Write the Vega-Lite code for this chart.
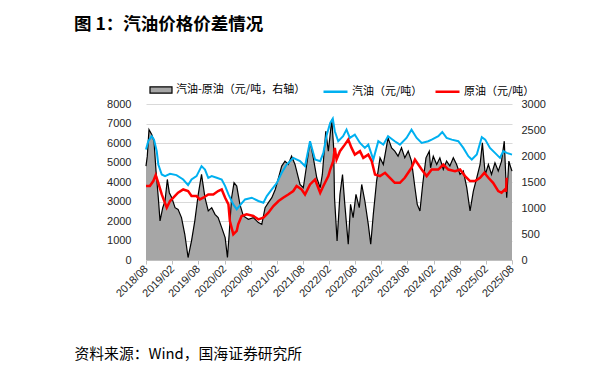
{
"$schema": "https://vega.github.io/schema/vega-lite/v6.json",
"autosize": {"type": "none"},
"width": 366, "height": 156,
"padding": {"left": 146, "top": 104, "right": 100, "bottom": 119},
"background": "white",
"config": {"view": {"stroke": null}, "font": "Liberation Sans"},
"title": {"text": "图 1：汽油价格价差情况", "anchor": "start", "frame": "group", "dx": -72, "offset": 45, "font": "Noto Sans CJK SC", "fontSize": 17.5, "fontWeight": "bold", "color": "#000000"},
"datasets": {
"spread": [
{"d":"2018-08-01","v":1806},{"d":"2018-08-10","v":1997},{"d":"2018-08-22","v":2507},{"d":"2018-09-10","v":2412},{"d":"2018-09-26","v":2285},{"d":"2018-10-10","v":1710},{"d":"2018-10-26","v":1198},{"d":"2018-11-07","v":751},{"d":"2018-11-26","v":1006},{"d":"2018-12-12","v":1135},{"d":"2018-12-28","v":1549},{"d":"2019-01-11","v":1294},{"d":"2019-01-28","v":1198},{"d":"2019-02-20","v":1006},{"d":"2019-03-13","v":974},{"d":"2019-04-06","v":815},{"d":"2019-04-29","v":495},{"d":"2019-05-22","v":48},{"d":"2019-06-15","v":368},{"d":"2019-07-08","v":751},{"d":"2019-08-01","v":1262},{"d":"2019-08-24","v":1645},{"d":"2019-09-17","v":1198},{"d":"2019-10-10","v":943},{"d":"2019-11-03","v":1006},{"d":"2019-11-26","v":878},{"d":"2019-12-18","v":815},{"d":"2020-01-12","v":623},{"d":"2020-02-05","v":431},{"d":"2020-02-21","v":48},{"d":"2020-03-04","v":495},{"d":"2020-03-21","v":1198},{"d":"2020-04-07","v":1486},{"d":"2020-04-26","v":1422},{"d":"2020-05-18","v":1070},{"d":"2020-06-11","v":847},{"d":"2020-07-16","v":782},{"d":"2020-08-20","v":815},{"d":"2020-09-24","v":719},{"d":"2020-10-18","v":686},{"d":"2020-11-10","v":1006},{"d":"2020-12-03","v":1102},{"d":"2020-12-27","v":1198},{"d":"2021-01-20","v":1357},{"d":"2021-02-12","v":1582},{"d":"2021-03-06","v":1806},{"d":"2021-03-29","v":1902},{"d":"2021-04-21","v":1837},{"d":"2021-05-14","v":1997},{"d":"2021-06-07","v":1837},{"d":"2021-07-12","v":1453},{"d":"2021-08-04","v":1390},{"d":"2021-08-28","v":1837},{"d":"2021-09-20","v":2285},{"d":"2021-10-13","v":1965},{"d":"2021-11-06","v":1582},{"d":"2021-11-30","v":1390},{"d":"2021-12-15","v":1645},{"d":"2022-01-08","v":2477},{"d":"2022-01-26","v":2093},{"d":"2022-02-19","v":2700},{"d":"2022-03-04","v":2157},{"d":"2022-03-10","v":1198},{"d":"2022-03-28","v":368},{"d":"2022-04-17","v":1262},{"d":"2022-05-05","v":1645},{"d":"2022-05-21","v":1070},{"d":"2022-06-14","v":303},{"d":"2022-06-30","v":1070},{"d":"2022-07-18","v":815},{"d":"2022-08-07","v":1262},{"d":"2022-08-30","v":1006},{"d":"2022-09-16","v":1453},{"d":"2022-10-08","v":1135},{"d":"2022-11-01","v":686},{"d":"2022-11-18","v":303},{"d":"2022-12-06","v":878},{"d":"2022-12-29","v":1518},{"d":"2023-01-22","v":1965},{"d":"2023-02-14","v":1837},{"d":"2023-03-19","v":2349},{"d":"2023-04-13","v":2157},{"d":"2023-05-05","v":2093},{"d":"2023-05-28","v":1997},{"d":"2023-06-21","v":2157},{"d":"2023-07-14","v":1965},{"d":"2023-08-07","v":2093},{"d":"2023-08-30","v":1902},{"d":"2023-09-23","v":1390},{"d":"2023-10-09","v":1070},{"d":"2023-10-28","v":943},{"d":"2023-11-16","v":1453},{"d":"2023-12-09","v":1965},{"d":"2024-01-01","v":2093},{"d":"2024-01-10","v":1773},{"d":"2024-01-29","v":1997},{"d":"2024-02-22","v":1837},{"d":"2024-03-15","v":1965},{"d":"2024-04-08","v":1741},{"d":"2024-05-01","v":1902},{"d":"2024-05-24","v":1806},{"d":"2024-06-17","v":1965},{"d":"2024-07-10","v":1837},{"d":"2024-08-03","v":1645},{"d":"2024-08-26","v":1710},{"d":"2024-09-19","v":1390},{"d":"2024-10-12","v":943},{"d":"2024-11-04","v":1326},{"d":"2024-11-28","v":1582},{"d":"2024-12-21","v":1837},{"d":"2025-01-06","v":2253},{"d":"2025-01-26","v":1645},{"d":"2025-02-17","v":1837},{"d":"2025-03-11","v":1645},{"d":"2025-04-04","v":1869},{"d":"2025-04-27","v":1710},{"d":"2025-05-20","v":1902},{"d":"2025-06-08","v":2285},{"d":"2025-06-25","v":1198},{"d":"2025-07-10","v":1902},{"d":"2025-07-24","v":1773},{"d":"2025-08-01","v":1710}
],
"gas": [
{"d":"2018-08-01","v":5662},{"d":"2018-08-17","v":6090},{"d":"2018-09-10","v":6346},{"d":"2018-09-26","v":6173},{"d":"2018-10-15","v":5580},{"d":"2018-10-26","v":4895},{"d":"2018-11-19","v":4384},{"d":"2018-12-12","v":4302},{"d":"2019-01-16","v":4420},{"d":"2019-03-02","v":4354},{"d":"2019-04-18","v":4129},{"d":"2019-05-22","v":3843},{"d":"2019-06-15","v":4129},{"d":"2019-07-20","v":4302},{"d":"2019-08-24","v":4814},{"d":"2019-09-17","v":4640},{"d":"2019-10-10","v":4216},{"d":"2019-11-03","v":4302},{"d":"2019-12-08","v":4216},{"d":"2020-01-12","v":4129},{"d":"2020-02-05","v":3792},{"d":"2020-02-28","v":3362},{"d":"2020-04-02","v":2851},{"d":"2020-04-26","v":2596},{"d":"2020-05-18","v":2800},{"d":"2020-06-23","v":3107},{"d":"2020-08-09","v":3194},{"d":"2020-09-24","v":3025},{"d":"2020-10-29","v":2938},{"d":"2020-11-22","v":3281},{"d":"2020-12-27","v":3618},{"d":"2021-02-01","v":3960},{"d":"2021-03-06","v":4471},{"d":"2021-04-10","v":4895},{"d":"2021-05-26","v":5238},{"d":"2021-07-12","v":5069},{"d":"2021-08-16","v":4814},{"d":"2021-09-20","v":6091},{"d":"2021-10-25","v":5151},{"d":"2021-11-30","v":5069},{"d":"2021-12-22","v":5493},{"d":"2022-01-15","v":6428},{"d":"2022-02-08","v":7026},{"d":"2022-02-26","v":7246},{"d":"2022-03-12","v":6602},{"d":"2022-04-05","v":6091},{"d":"2022-05-09","v":6346},{"d":"2022-06-02","v":6684},{"d":"2022-06-25","v":6260},{"d":"2022-07-30","v":6428},{"d":"2022-09-04","v":6004},{"d":"2022-10-08","v":5749},{"d":"2022-11-01","v":5917},{"d":"2022-12-06","v":5151},{"d":"2023-01-10","v":6091},{"d":"2023-02-14","v":5917},{"d":"2023-03-19","v":6346},{"d":"2023-05-05","v":6091},{"d":"2023-06-10","v":5917},{"d":"2023-07-26","v":6260},{"d":"2023-08-30","v":6684},{"d":"2023-10-05","v":6260},{"d":"2023-11-09","v":6004},{"d":"2023-12-25","v":6091},{"d":"2024-01-18","v":6173},{"d":"2024-03-04","v":6346},{"d":"2024-04-01","v":6566},{"d":"2024-05-01","v":6260},{"d":"2024-06-06","v":6173},{"d":"2024-07-22","v":6091},{"d":"2024-08-26","v":5749},{"d":"2024-09-30","v":5324},{"d":"2024-10-24","v":5151},{"d":"2024-11-28","v":5406},{"d":"2025-01-02","v":6296},{"d":"2025-01-26","v":6173},{"d":"2025-02-28","v":5749},{"d":"2025-04-04","v":5493},{"d":"2025-05-09","v":5238},{"d":"2025-06-01","v":5580},{"d":"2025-06-25","v":5493},{"d":"2025-08-01","v":5406}
],
"crude": [
{"d":"2018-08-01","v":3792},{"d":"2018-08-28","v":3792},{"d":"2018-09-21","v":4047},{"d":"2018-10-08","v":4354},{"d":"2018-10-26","v":3960},{"d":"2018-11-19","v":3362},{"d":"2018-12-24","v":2683},{"d":"2019-01-16","v":3025},{"d":"2019-02-08","v":3194},{"d":"2019-03-13","v":3449},{"d":"2019-04-18","v":3618},{"d":"2019-05-22","v":3536},{"d":"2019-06-15","v":3281},{"d":"2019-07-20","v":3281},{"d":"2019-08-12","v":3107},{"d":"2019-09-05","v":3194},{"d":"2019-10-10","v":3362},{"d":"2019-11-14","v":3362},{"d":"2019-12-18","v":3536},{"d":"2020-01-12","v":3618},{"d":"2020-02-05","v":3194},{"d":"2020-02-28","v":2851},{"d":"2020-03-09","v":2003},{"d":"2020-04-02","v":1318},{"d":"2020-04-26","v":1492},{"d":"2020-05-06","v":1829},{"d":"2020-05-30","v":2259},{"d":"2020-07-04","v":2340},{"d":"2020-08-20","v":2259},{"d":"2020-09-24","v":2085},{"d":"2020-10-29","v":2172},{"d":"2020-12-03","v":2427},{"d":"2021-01-07","v":2770},{"d":"2021-02-12","v":3025},{"d":"2021-03-16","v":3194},{"d":"2021-04-21","v":3362},{"d":"2021-05-26","v":3536},{"d":"2021-06-18","v":3792},{"d":"2021-07-23","v":3618},{"d":"2021-08-16","v":3362},{"d":"2021-09-20","v":3873},{"d":"2021-10-25","v":4129},{"d":"2021-11-30","v":3449},{"d":"2021-12-22","v":3792},{"d":"2022-01-26","v":4302},{"d":"2022-02-08","v":4640},{"d":"2022-03-01","v":5069},{"d":"2022-03-12","v":5749},{"d":"2022-03-24","v":5151},{"d":"2022-04-17","v":5580},{"d":"2022-05-21","v":5917},{"d":"2022-06-14","v":6173},{"d":"2022-07-07","v":5749},{"d":"2022-07-30","v":5406},{"d":"2022-09-04","v":5580},{"d":"2022-09-27","v":5238},{"d":"2022-11-01","v":5406},{"d":"2022-11-25","v":5069},{"d":"2022-12-18","v":4384},{"d":"2023-01-22","v":4302},{"d":"2023-02-26","v":4471},{"d":"2023-04-01","v":4216},{"d":"2023-05-05","v":3960},{"d":"2023-06-10","v":3960},{"d":"2023-07-14","v":4216},{"d":"2023-08-30","v":4727},{"d":"2023-09-23","v":5151},{"d":"2023-11-09","v":4640},{"d":"2023-12-14","v":4302},{"d":"2024-01-18","v":4640},{"d":"2024-03-04","v":4640},{"d":"2024-04-08","v":4895},{"d":"2024-05-13","v":4640},{"d":"2024-06-29","v":4558},{"d":"2024-08-03","v":4640},{"d":"2024-09-07","v":4302},{"d":"2024-10-12","v":4047},{"d":"2024-11-16","v":4047},{"d":"2024-12-21","v":4216},{"d":"2025-01-20","v":4471},{"d":"2025-02-17","v":4216},{"d":"2025-03-22","v":3960},{"d":"2025-04-27","v":3536},{"d":"2025-05-20","v":3449},{"d":"2025-06-13","v":3618},{"d":"2025-06-20","v":3500},{"d":"2025-06-25","v":4216}
]
},
"encoding": {
  "x": {"field": "d", "type": "temporal",
    "scale": {"type": "utc", "domain": [{"year": 2018, "month": 8, "date": 1, "utc": true}, {"year": 2025, "month": 8, "date": 1, "utc": true}]},
    "axis": {
      "values": [{"year":2018,"month":8,"date":1,"utc":true},{"year":2019,"month":2,"date":1,"utc":true},{"year":2019,"month":8,"date":1,"utc":true},{"year":2020,"month":2,"date":1,"utc":true},{"year":2020,"month":8,"date":1,"utc":true},{"year":2021,"month":2,"date":1,"utc":true},{"year":2021,"month":8,"date":1,"utc":true},{"year":2022,"month":2,"date":1,"utc":true},{"year":2022,"month":8,"date":1,"utc":true},{"year":2023,"month":2,"date":1,"utc":true},{"year":2023,"month":8,"date":1,"utc":true},{"year":2024,"month":2,"date":1,"utc":true},{"year":2024,"month":8,"date":1,"utc":true},{"year":2025,"month":2,"date":1,"utc":true},{"year":2025,"month":8,"date":1,"utc":true}],
      "format": "%Y/%m", "labelAngle": -45, "labelAlign": "right", "labelBaseline": "middle", "labelPadding": 3,
      "labelFont": "Liberation Sans", "labelFontSize": 11, "labelColor": "#262626", "labelOverlap": false, "labelFlush": false,
      "ticks": true, "tickSize": 4, "tickColor": "#bfbfbf", "domainColor": "#bfbfbf", "grid": false,
      "title": "资料来源：Wind，国海证券研究所", "titleFont": "Noto Sans CJK SC", "titleFontSize": 14.8, "titleFontWeight": "normal", "titleColor": "#000000",
      "titleX": -72, "titleY": 98, "titleAlign": "left", "titleAnchor": "start", "titleBaseline": "alphabetic", "titleAngle": 0
    }
  }
},
"layer": [
  {
    "data": {"name": "spread"},
    "encoding": {
      "y": {"field": "v", "type": "quantitative", "scale": {"domain": [0, 3000], "nice": false},
        "axis": {"orient": "right", "values": [0, 500, 1000, 1500, 2000, 2500, 3000], "format": "d", "grid": false, "domain": false, "ticks": false, "labelPadding": 9, "labelFont": "Liberation Sans", "labelFontSize": 11, "labelColor": "#262626", "title": null}}
    },
    "layer": [
      {"mark": {"type": "area", "opacity": 1},
       "encoding": {"fill": {"datum": "汽油-原油（元/吨，右轴）", "type": "nominal",
         "scale": {"domain": ["汽油-原油（元/吨，右轴）"], "range": ["#a6a6a6"]},
         "legend": {"orient": "none", "legendX": 3, "legendY": -26, "direction": "horizontal", "title": null,
           "labelFont": "Noto Sans CJK SC", "labelFontSize": 11, "labelColor": "#000000", "labelOffset": 3,
           "symbolType": "M-1,-0.28H1V0.28H-1Z", "symbolSize": 484, "symbolStrokeColor": "#000000", "symbolStrokeWidth": 1.2, "symbolOpacity": 1}
       }}},
      {"mark": {"type": "line", "color": "#000000", "strokeWidth": 1.2}, "encoding": {}}
    ]
  },
  {
    "layer": [
      {"data": {"name": "gas"},
       "mark": {"type": "line", "strokeWidth": 2},
       "encoding": {
         "y": {"field": "v", "type": "quantitative", "scale": {"domain": [0, 8000], "nice": false},
           "axis": {"orient": "left", "values": [0, 1000, 2000, 3000, 4000, 5000, 6000, 7000, 8000], "format": "d", "grid": true, "gridColor": "#d9d9d9", "gridWidth": 1, "domain": false, "ticks": false, "labelPadding": 15, "labelFont": "Liberation Sans", "labelFontSize": 11, "labelColor": "#262626", "title": null}},
         "stroke": {"datum": "汽油（元/吨）", "type": "nominal",
           "scale": {"domain": ["汽油（元/吨）", "原油（元/吨）"], "range": ["#00b0f0", "#ff0000"]},
           "legend": {"orient": "none", "legendX": 176, "legendY": -26, "direction": "horizontal", "title": null,
             "labelFont": "Noto Sans CJK SC", "labelFontSize": 11, "labelColor": "#000000", "labelOffset": 3, "columnPadding": 7,
             "symbolType": "stroke", "symbolSize": 576, "symbolStrokeWidth": 2.5}}
       }},
      {"data": {"name": "crude"},
       "mark": {"type": "line", "strokeWidth": 2.5},
       "encoding": {
         "y": {"field": "v", "type": "quantitative", "scale": {"domain": [0, 8000], "nice": false},
           "axis": {"orient": "left", "values": [0, 1000, 2000, 3000, 4000, 5000, 6000, 7000, 8000], "format": "d", "grid": true, "gridColor": "#d9d9d9", "gridWidth": 1, "domain": false, "ticks": false, "labelPadding": 15, "labelFont": "Liberation Sans", "labelFontSize": 11, "labelColor": "#262626", "title": null}},
         "stroke": {"datum": "原油（元/吨）", "type": "nominal"}
       }}
    ]
  }
],
"resolve": {"scale": {"y": "independent"}}
}
